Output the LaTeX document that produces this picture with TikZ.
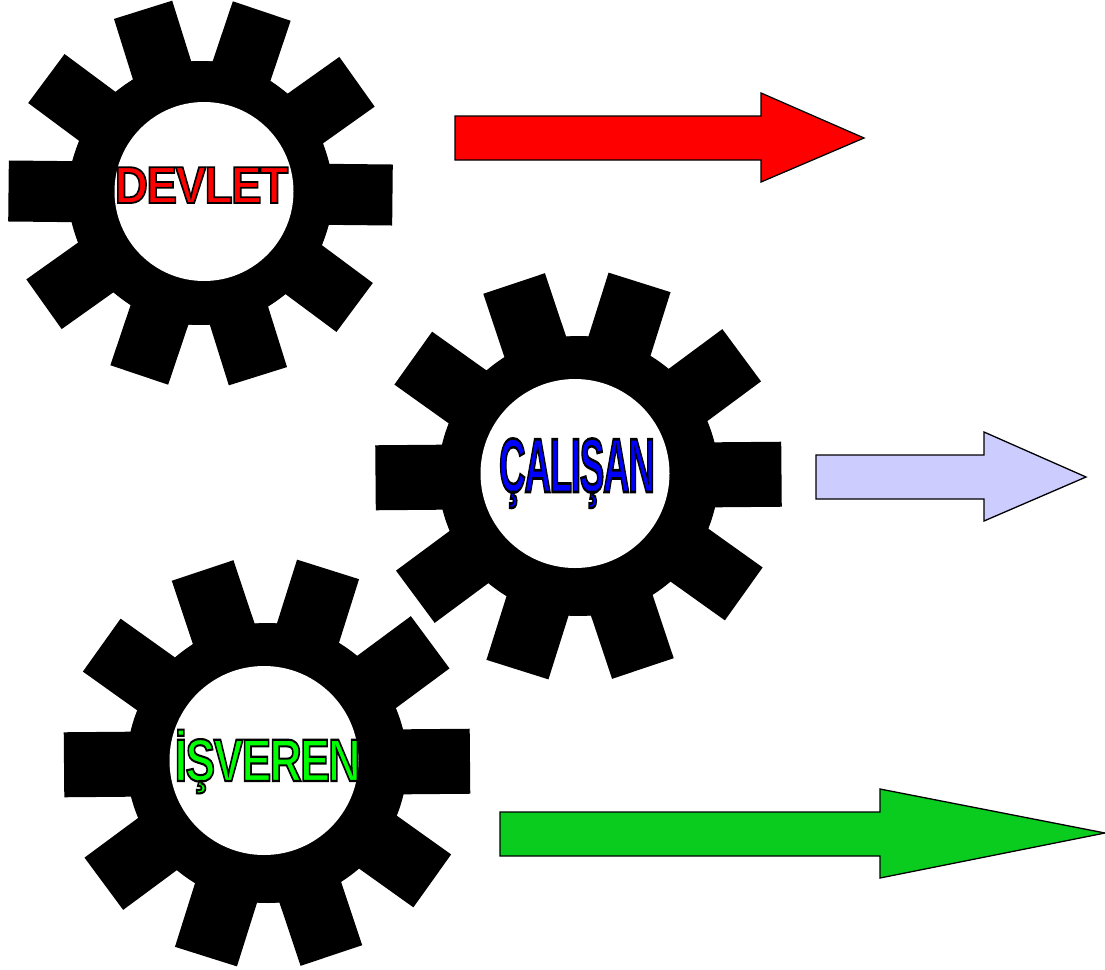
\documentclass[tikz,border=0pt]{standalone}
\usepackage{fontspec}
\setmainfont{Liberation Sans}
\newfontfamily\gearfont[BoldFeatures={FakeBold=3.5,LetterSpace=-3.5}]{Liberation Sans}
\newcommand{\outlined}[2]{\special{pdf:bcolor [#1] [0 0 0]}#2\special{pdf:ecolor}}

\begin{document}
\begin{tikzpicture}[
    x=1pt, y=-1pt,
    gearwheel/.style={fill=black},
    gearhole/.style={fill=white},
    flowarrow/.style={draw=black, line width=1.3pt, line join=miter},
    gearlabel/.style={anchor=base, inner sep=0pt, font=\gearfont\bfseries\fontsize{40}{40}\selectfont}
]
\useasboundingbox (0,0) rectangle (1105,969);

% Gears
\foreach \cx/\cy/\base/\rim/\tip/\half/\tilt/\hx/\hy/\hr in {
    200.5/193/128.5/132/192/30.5/-0.6/204/191.5/89.5,
    578.5/476/136/140/203/32.5/0.5/575/473.5/94.5,
    267/763/136/140/203/32.5/0.5/264/760.5/94.5} {
  \begin{scope}[shift={(\cx,\cy)}, rotate=\tilt]
    \fill[gearwheel] (\base,\half)
      \foreach \k in {0,...,9} {
        -- ([rotate=36*\k]\base,\half) -- ([rotate=36*\k]\tip,\half)
        -- ([rotate=36*\k]\tip,-\half) -- ([rotate=36*\k]\base,-\half)
      } -- cycle;
    \fill[gearwheel] (0,0) circle (\rim);
  \end{scope}
  \fill[gearhole] (\hx,\hy) circle (\hr);
}

% Labels
\node[gearlabel] (devlet) at (201.5,203) {\scalebox{1.15}[1.3]{\outlined{1 0 0}{DEVLET}}};
\node[gearlabel] (calisan) at (577,492) {\scalebox{0.92}[1.92]{\outlined{0 0 1}{ÇALIŞAN}}};
\node[gearlabel] (isveren) at (267.5,781) {\scalebox{1.11}[1.5]{\outlined{0 1 0}{İŞVEREN}}};

% Arrows
\draw[flowarrow, fill=red] (455,116) -- (761,116) -- (761,93) -- (864,138)
  -- (761,182) -- (761,160) -- (455,160) -- cycle;
\draw[flowarrow, fill={rgb,255:red,204;green,204;blue,255}] (816,455) -- (984,455) -- (984,432) -- (1086,477)
  -- (984,521) -- (984,499) -- (816,499) -- cycle;
\draw[flowarrow, fill={rgb,255:red,10;green,204;blue,30}] (500,812) -- (880,812) -- (880,789) -- (1105,833)
  -- (880,878) -- (880,856) -- (500,856) -- cycle;

\end{tikzpicture}
\end{document}
